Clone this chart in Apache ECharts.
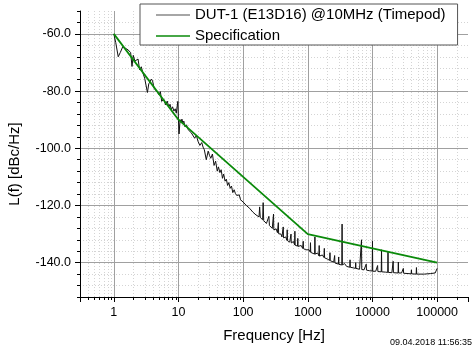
<!DOCTYPE html>
<html><head><meta charset="utf-8">
<script src="https://cdn.jsdelivr.net/npm/echarts@6/dist/echarts.min.js"></script>
<style>html,body{margin:0;padding:0;background:#fff}#c{width:476px;height:354px}</style>
</head><body><div id="c"></div>
<script>
const FONT = '"Liberation Sans", Arial, sans-serif';
const dutName = 'DUT-1 (E13D16) @10MHz (Timepod)';
const specName = 'Specification';
const dutFreq = [1,1.07,1.17,1.26,1.38,1.51,1.66,1.82,1.91,2.0,2.12,2.24,2.37,2.51,2.66,2.82,3.0,3.16,3.31,3.47,3.63,3.8,3.98,4.2,4.47,4.75,5.01,5.25,5.5,5.9,6.31,6.7,7.08,7.4,7.76,8.1,8.51,8.9,9.25,9.6,9.77,9.95,10.2,10.6,11,11.3,11.7,12.1,12.6,13.3,14.1,14.9,15.8,16.8,17.8,18.9,20,21.4,22.9,24,25.1,26.9,28.8,30.2,31.6,33.5,35.5,37.5,39.8,41.5,43.7,45.7,47.9,50,52.5,55,57.5,60,63.1,66,69.2,72.5,75.9,79.5,83.2,87,91.2,95.5,100,106,112,119,126,133,141,149,158,167,176,180,184,192,200,204,208,218,229,245,250,255,268,282,292,295,298,309,324,339,346,350,354,372,385,398,413,417,421,437,456,475,480,485,505,525,545,550,555,575,600,625,631,637,665,693,700,707,741,790,832,842,850,858,895,933,1000,1045,1090,1100,1110,1190,1275,1288,1300,1349,1420,1485,1500,1515,1585,1680,1778,1800,1818,1995,2180,2200,2220,2380,2512,2575,2600,2625,2818,2970,3000,3030,3355,3388,3420,3700,3981,4455,4500,4545,5012,5445,5500,5555,6310,6693,6761,6830,7413,7920,8000,8080,8913,9900,10000,10100,11220,11880,12000,12120,13660,13800,13940,15850,17200,17380,17560,19950,20680,20890,21100,24870,25120,25370,28180,29700,30000,30300,35480,39600,40000,40400,47380,47860,48340,63100,79430,93300,97500,100000];
const dutLevel = [-60,-63,-68,-66.5,-64.4,-65,-65.6,-66.5,-71.4,-67.5,-69.5,-70,-68.8,-72.6,-71.5,-73.7,-75.5,-76,-80.5,-77.5,-77,-75.8,-76.5,-79,-78.4,-80.5,-81.3,-80.2,-83.6,-82.8,-84.8,-83.5,-85.5,-84.6,-86.5,-85.5,-87,-86.2,-87.7,-88,-83.6,-89,-95,-90,-91,-89.8,-91.2,-90.5,-92.5,-91.8,-93.5,-93,-94.6,-94,-96.5,-95.5,-97.5,-99,-98,-99.6,-100.5,-104,-101,-102.5,-103.5,-102,-106,-104.5,-108,-106.5,-108.5,-107.5,-110.5,-109,-111.5,-110.8,-113,-112,-114,-113.2,-115.5,-114.5,-115.8,-116.5,-117,-116.3,-118,-117.5,-118.8,-118.5,-120,-119.6,-121,-120.5,-122.3,-121.7,-123.3,-122.8,-124,-120.5,-124.2,-124,-125,-119,-125.3,-125,-126.3,-126.8,-123.8,-127,-126.6,-128,-128.3,-123,-128.5,-128.8,-128.2,-129.5,-129.7,-126,-129.9,-130.5,-130,-131,-131.2,-127.5,-131.3,-131.6,-131,-132.2,-128.5,-132.3,-131.8,-132.8,-133,-130,-133.1,-133.3,-132.6,-133.8,-129,-133.9,-133.5,-134.2,-131.5,-134.3,-134.5,-134,-135,-135,-132.5,-135.1,-134.6,-135.5,-136,-135.5,-136.3,-133,-136.4,-136.2,-137,-131,-137,-137.2,-136.6,-137.6,-134,-137.7,-137.9,-137.3,-138.2,-135,-138.3,-138.7,-139.2,-136.5,-139.3,-138.8,-139.8,-140,-137.5,-140.1,-140.3,-140.5,-138,-140.6,-140.8,-126.5,-140.8,-140.3,-141.3,-141.6,-139,-141.6,-141.8,-142,-140,-142,-142.3,-142.4,-132,-142.4,-142.5,-142.6,-140.5,-142.6,-142.8,-142.9,-132.5,-143,-143,-143.1,-141,-143.1,-143.2,-135.5,-143.2,-143.3,-143.4,-136.3,-143.4,-143.5,-143.5,-139.5,-143.5,-143.6,-139.8,-143.6,-143.6,-143.7,-142,-143.7,-143.8,-143.9,-142.5,-143.9,-144,-141.7,-144,-144,-143.8,-143.6,-143.3,-142];
const specFreq = [1, 10, 1000, 100000];
const specLevel = [-60, -90, -130, -140];
const xTickLabels = [1, 10, 100, 1000, 10000, 100000];
const yTickLabels = [-140, -120, -100, -80, -60];
const minorMult = [2, 3, 4, 5, 6, 7, 8, 9];
const decadeStarts = [0.1, 1, 10, 100, 1000, 10000, 100000];
const xMin = 0.3, xMax = 300000, yMin = -152, yMax = -52;
const timestamp = '09.04.2018 11:56:35';

const minorFreq = [];
decadeStarts.forEach(d => minorMult.forEach(m => { const f = +(d * m).toPrecision(6); if (f > xMin && f < xMax) minorFreq.push(f); }));

const chart = echarts.init(document.getElementById('c'), null, {renderer: 'canvas'});
chart.setOption({
  animation: false,
  backgroundColor: '#fff',
  textStyle: {fontFamily: FONT},
  grid: {left: 80, right: 8, top: 11, bottom: 57},
  legend: {
    left: 140, top: 4,
    orient: 'vertical',
    padding: [2, 12, 0, 16],
    itemGap: 3, itemWidth: 34, itemHeight: 1.5,
    backgroundColor: '#fff', borderColor: '#555', borderWidth: 1,
    textStyle: {fontFamily: FONT, fontSize: 15, color: '#000', lineHeight: 18},
    data: [
      {name: dutName, icon: 'rect', itemStyle: {color: '#888'}},
      {name: specName, icon: 'rect', itemStyle: {color: '#0a8a0a'}}
    ],
    z: 10
  },
  xAxis: {
    type: 'log', logBase: 10, min: xMin, max: xMax,
    name: 'Frequency [Hz]', nameLocation: 'middle', nameGap: 31,
    nameTextStyle: {fontFamily: FONT, fontSize: 15, color: '#000'},
    axisLine: {lineStyle: {color: '#000', width: 1}},
    axisTick: {length: 5, lineStyle: {color: '#000'}},
    axisLabel: {fontFamily: FONT, fontSize: 12.5, color: '#000', margin: 9,
      formatter: v => { const r = Math.round(v); return xTickLabels.includes(r) && Math.abs(v - r) < 1e-6 * Math.max(1, r) ? String(r) : ''; }},
    splitLine: {show: true, showMinLine: false, showMaxLine: false, lineStyle: {color: '#a0a0a0', width: 1}}
  },
  yAxis: [
    {
      type: 'value', min: yMin, max: yMax, interval: 4, position: 'left',
      axisLine: {show: false},
      axisTick: {show: true, length: 3, lineStyle: {color: '#000'}},
      axisLabel: {show: false},
      splitLine: {show: true, showMinLine: false, showMaxLine: false, lineStyle: {color: '#d4d4d4', width: 1, type: [1, 2]}}
    },
    {
      type: 'value', min: yMin, max: yMax, splitNumber: 5, position: 'left',
      axisLine: {show: true, lineStyle: {color: '#000', width: 1}},
      axisTick: {show: true, length: 5, lineStyle: {color: '#000'}},
      axisLabel: {fontFamily: FONT, fontSize: 12.5, color: '#000', margin: 9, showMinLabel: false, showMaxLabel: false,
        formatter: v => yTickLabels.includes(v) ? v.toFixed(1) : ''},
      splitLine: {show: true, showMinLine: false, showMaxLine: false, lineStyle: {color: '#a0a0a0', width: 1}}
    }
  ],
  graphic: [
    {type: 'text', x: 15, y: 164, rotation: Math.PI / 2,
      style: {text: 'L(f) [dBc/Hz]', font: '15px ' + FONT, fill: '#000', align: 'center', verticalAlign: 'middle'}},
    {type: 'text', right: 4, top: 338,
      style: {text: timestamp, font: '9px ' + FONT, fill: '#000'}}
  ],
  series: [
    {
      type: 'custom', name: 'minorX', xAxisIndex: 0, yAxisIndex: 1, silent: true, z: 1,
      data: minorFreq.map(f => [f, yMin]),
      renderItem: (params, api) => {
        const f = api.value(0);
        const b = api.coord([f, yMin]);
        const t = api.coord([f, yMax]);
        const x = Math.round(b[0]) + 0.5;
        return {type: 'group', children: [
          {type: 'line', shape: {x1: x, y1: t[1], x2: x, y2: b[1]}, style: {stroke: '#d4d4d4', lineWidth: 1, lineDash: [1, 2]}},
          {type: 'line', shape: {x1: x, y1: b[1], x2: x, y2: b[1] + 3}, style: {stroke: '#000', lineWidth: 1}}
        ]};
      }
    },
    {
      type: 'line', name: dutName, xAxisIndex: 0, yAxisIndex: 1, showSymbol: false, symbol: 'none',
      data: dutFreq.map((f, i) => [f, dutLevel[i]]),
      lineStyle: {color: '#111', width: 1}, itemStyle: {color: '#111'}, z: 3
    },
    {
      type: 'line', name: specName, xAxisIndex: 0, yAxisIndex: 1, showSymbol: false, symbol: 'none',
      data: specFreq.map((f, i) => [f, specLevel[i]]),
      lineStyle: {color: '#0a8a0a', width: 1.8}, itemStyle: {color: '#0a8a0a'}, z: 4
    }
  ]
});
</script></body></html>
